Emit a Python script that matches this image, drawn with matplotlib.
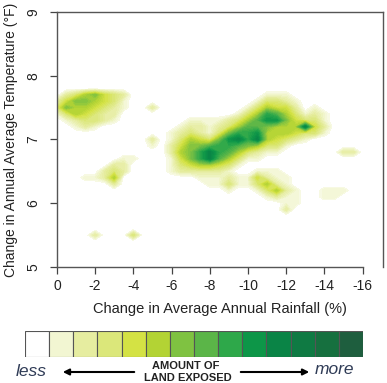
import numpy as np
import matplotlib
matplotlib.use("Agg")
import matplotlib.pyplot as plt
from matplotlib.colors import LinearSegmentedColormap, Normalize
from matplotlib.patches import Rectangle, FancyArrowPatch

plt.rcParams['font.family'] = ['Liberation Sans', 'DejaVu Sans']

# ------------------------------------------------------------------
# data: amount of land exposed (0 = none ... 13 = most)
# grid columns = rainfall change 0, -0.5, ..., -17 (%)
# grid rows    = temperature change 7.8, 7.7, ..., 5.4 (F)
# one hex digit per cell
# ------------------------------------------------------------------
rain_change = np.round(np.arange(0, -17.5, -0.5), 1)
temp_change = np.round(np.arange(7.8, 5.35, -0.1), 1)
land_rows = [
    "0000000000" "0000000000" "0000000000" "00000",  # 7.8
    "0235643200" "0000000000" "0011100000" "00000",  # 7.7
    "2466543100" "0000000000" "0133210000" "00000",  # 7.6
    "3655432100" "2000000000" "1354420100" "00000",  # 7.5
    "1354322000" "0000000001" "3587531210" "00000",  # 7.4
    "0123321000" "0000111123" "5799643310" "00000",  # 7.3
    "0012100000" "0001221235" "776555a420" "00000",  # 7.2
    "0000000000" "0012321368" "8955543310" "00000",  # 7.1
    "0000000000" "201354369a" "8a54321000" "00000",  # 7.0
    "0000000000" "1024667887" "6533100000" "00000",  # 6.9
    "0000000000" "002568a875" "3211000000" "22000",  # 6.8
    "0000000110" "001468a753" "1100000000" "00000",  # 6.7
    "0000002200" "0013455431" "0000000000" "00000",  # 6.6
    "0000023200" "0012222210" "0111000000" "00000",  # 6.5
    "0001125000" "0000011121" "1421100000" "00000",  # 6.4
    "0000002000" "0000001131" "1352100000" "00000",  # 6.3
    "0000000000" "0000000010" "0135210011" "10000",  # 6.2
    "0000000000" "0000000000" "0012110011" "00000",  # 6.1
    "0000000000" "0000000000" "0000110000" "00000",  # 6.0
    "0000000000" "0000000000" "0000200000" "00000",  # 5.9
    "0000000000" "0000000000" "0000000000" "00000",  # 5.8
    "0000000000" "0000000000" "0000000000" "00000",  # 5.7
    "0000000000" "0000000000" "0000000000" "00000",  # 5.6
    "0000200030" "0000000000" "0000000000" "00000",  # 5.5
    "0000000000" "0000000000" "0000000000" "00000",  # 5.4
]
land_colors = ["#ffffff", "#f2f6d2", "#e6eda0", "#dbe77a", "#d4e244", "#b3d334",
               "#7fc241", "#5bb548", "#2ea84a", "#0d9648", "#0a8446", "#0f7a43",
               "#16703f", "#1e5e3e"]
x_ticks = [0, -2, -4, -6, -8, -10, -12, -14, -16]
y_ticks = [5, 6, 7, 8, 9]

z = np.array([[int(ch, 16) for ch in row] for row in land_rows], dtype=float)
X, Y = np.meshgrid(rain_change, temp_change)

cmap = LinearSegmentedColormap.from_list("land", land_colors)
norm = Normalize(vmin=0, vmax=len(land_colors) - 1)

fig = plt.figure(figsize=(3.87, 3.83), dpi=100)
ax = fig.add_axes([0.147, 0.303, 0.843, 0.666])

levels = np.arange(0.5, 12.6, 0.25)
ax.contourf(X, Y, z, levels=levels, cmap=cmap, norm=norm)

ax.set_xlim(0, -17.07)
ax.set_ylim(5, 9)
ax.set_xticks(x_ticks)
ax.set_xticklabels([str(t) for t in x_ticks], fontsize=10)
ax.set_yticks(y_ticks)
ax.set_yticklabels([str(t) for t in y_ticks], fontsize=10, rotation=90, va='center')
ax.tick_params(axis='both', length=5, width=0.9, color='#444444', labelcolor='#222222')
ax.tick_params(axis='x', pad=4)
ax.tick_params(axis='y', pad=7)
for side in ['left', 'top', 'right', 'bottom']:
    ax.spines[side].set_color('#555555')
    ax.spines[side].set_linewidth(1.0)
ax.spines['bottom'].set_bounds(0, -16)
ax.set_xlabel("Change in Average Annual Rainfall (%)", fontsize=10.5, labelpad=6, color='#222222')
ax.set_ylabel("Change in Annual Average Temperature (\u00b0F)", fontsize=10, labelpad=6, color='#222222')

# legend strip
lax = fig.add_axes([0.0646, 0.0679, 0.8734, 0.0679])
for i, c in enumerate(land_colors):
    lax.add_patch(Rectangle((i, 0), 1, 1, facecolor=c, edgecolor='#555555', linewidth=0.8))
lax.set_xlim(0, len(land_colors))
lax.set_ylim(0, 1)
lax.axis('off')

fig.text(31 / 387, 1 - 371 / 383, "less", fontsize=12.5, style='italic', color='#2f3b56',
         ha='center', va='center')
fig.text(334 / 387, 1 - 370 / 383, "more", fontsize=12.5, style='italic', color='#2f3b56',
         ha='center', va='center')
fig.text(186 / 387, 1 - 366 / 383, "AMOUNT OF", fontsize=8, weight='bold', color='#222222',
         ha='center', va='center')
fig.text(188 / 387, 1 - 378 / 383, "LAND EXPOSED", fontsize=8, weight='bold', color='#222222',
         ha='center', va='center')
fig.add_artist(FancyArrowPatch((137 / 387, 1 - 372 / 383), (60 / 387, 1 - 372 / 383),
               transform=fig.transFigure, arrowstyle='-|>', mutation_scale=9, color='black', lw=1.5))
fig.add_artist(FancyArrowPatch((238 / 387, 1 - 372 / 383), (312 / 387, 1 - 372 / 383),
               transform=fig.transFigure, arrowstyle='-|>', mutation_scale=9, color='black', lw=1.5))

fig.savefig("out.png", dpi=100)
